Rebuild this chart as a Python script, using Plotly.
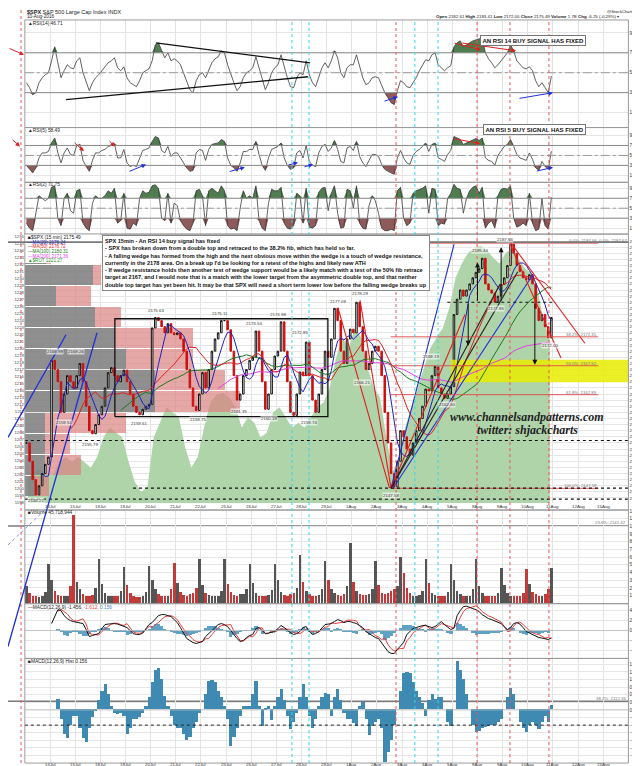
import numpy as np
import pandas as pd
import plotly.graph_objects as go

W, H = 640, 766
def X(p): return p / W
def Y(p): return 1 - p / H

# ---------------- data ----------------
SESSIONS = ["13Jul","14Jul","15Jul","18Jul","19Jul","20Jul","21Jul","22Jul","25Jul","26Jul","27Jul",
            "28Jul","29Jul","1Aug","2Aug","3Aug","4Aug","5Aug","8Aug","9Aug","10Aug"]
AXIS_LABELS = ["14Jul","15Jul","18Jul","19Jul","20Jul","21Jul","22Jul","25Jul","26Jul","27Jul","28Jul",
               "29Jul","1Aug","2Aug","3Aug","4Aug","5Aug","8Aug","9Aug","10Aug","11Aug","12Aug","15Aug"]
PER_DAY = 8

CLOSE = [
    2155, 2152, 2149, 2146.5, 2148, 2150, 2151.5, 2152.7,
    2168.5, 2167, 2165, 2160, 2163, 2166, 2165, 2164,
    2166, 2168, 2165, 2161, 2157, 2156.5, 2158, 2159.6,
    2161, 2164, 2166.5, 2167.3, 2166, 2165, 2166, 2166.9,
    2165, 2163, 2161, 2160, 2159.6, 2160.5, 2161, 2161.3,
    2173.8, 2175.5, 2175, 2174, 2173, 2174.5, 2173, 2172.7,
    2173, 2172, 2170, 2167, 2164, 2161, 2160.3, 2163,
    2166.5, 2164, 2167, 2170, 2172, 2173, 2175, 2175,
    2173.5, 2170, 2166, 2162, 2163, 2166, 2167, 2168.5,
    2169, 2173.3, 2170, 2165, 2160.5, 2163, 2167, 2169.2,
    2170, 2174.8, 2170, 2165, 2160, 2159.5, 2163, 2166.6,
    2166, 2171.5, 2166, 2162, 2160, 2163, 2167, 2170,
    2169, 2172, 2177, 2175, 2170, 2168, 2172, 2173.6,
    2173, 2178, 2174, 2170, 2167, 2168, 2170, 2170.8,
    2170, 2166, 2160, 2155, 2150, 2147.8, 2152, 2157,
    2156, 2154, 2153, 2155, 2157, 2159, 2161, 2163.8,
    2163.5, 2166, 2167.5, 2164, 2163, 2162.3, 2163, 2164.2,
    2176, 2178.5, 2180, 2179, 2180, 2181, 2182, 2182.9,
    2183.5, 2185.2, 2181, 2180, 2179.5, 2178, 2179, 2180.9,
    2182, 2184, 2187.5, 2186, 2184, 2183, 2182, 2181.7,
    2182.5, 2181, 2177, 2175, 2176, 2174, 2172.2, 2175.5,
]

RUT = [
    1201.6, 1202.3, 1202.8, 1201.9,
    1202.0, 1203.8, 1204.5, 1203.8,
    1204.5, 1203.8, 1203.0, 1204.5,
    1207.3, 1208.7, 1208.0, 1207.3,
    1203.8, 1200.9, 1199.5, 1200.2,
    1207.3, 1209.4, 1211.6, 1210.9,
    1210.2, 1205.9, 1203.0, 1204.5,
    1208.7, 1212.3, 1213.4, 1213.7,
    1213.0, 1211.6, 1208.7, 1210.2,
    1209.4, 1207.3, 1208.0, 1210.9,
    1211.6, 1210.2, 1208.7, 1209.4,
    1208.7, 1210.2, 1211.6, 1212.3,
    1214.4, 1218.7, 1221.6, 1220.1,
    1223.0, 1221.6, 1217.3, 1214.4,
    1213.0, 1207.3, 1202.3, 1204.5,
    1208.7, 1211.6, 1214.4, 1217.3,
    1220.1, 1221.6, 1223.0, 1225.8,
    1230.1, 1232.2, 1233.7, 1234.4,
    1234.7, 1234.1, 1233.0, 1232.2,
    1233.7, 1234.4, 1233.0, 1231.5,
    1230.8, 1228.7, 1224.0, 1221.3,
]

RSI14 = [
    40, 35, 28, 30, 40, 45, 48, 50,
    62, 76, 60, 45, 52, 58, 55, 54,
    62, 65, 50, 40, 32, 40, 45, 48,
    52, 55, 60, 62, 65, 55, 52, 56,
    45, 40, 38, 36, 42, 50, 52, 54,
    62, 78, 80, 72, 65, 70, 62, 64,
    62, 58, 50, 40, 33, 30, 42, 48,
    50, 45, 52, 60, 64, 66, 72, 70,
    58, 48, 40, 32, 36, 45, 50, 52,
    55, 66, 55, 42, 33, 40, 50, 55,
    58, 68, 55, 45, 36, 35, 45, 50,
    48, 62, 48, 40, 36, 45, 55, 60,
    55, 62, 72, 65, 50, 45, 55, 58,
    58, 68, 55, 45, 38, 40, 45, 46,
    45, 38, 30, 25, 20, 18, 32, 42,
    40, 36, 35, 40, 45, 52, 57, 63,
    62, 68, 70, 58, 55, 52, 55, 57,
    76, 80, 82, 76, 78, 80, 82, 83,
    84, 85, 70, 64, 60, 55, 58, 62,
    66, 70, 78, 72, 62, 58, 55, 54,
    56, 52, 42, 36, 40, 35, 30, 46.7,
]

RSI5 = [
    30, 22, 15, 25, 45, 55, 55, 58,
    75, 85, 55, 35, 55, 65, 52, 50,
    70, 72, 40, 28, 18, 40, 55, 55,
    60, 62, 68, 70, 74, 45, 45, 62,
    35, 28, 30, 28, 45, 60, 62, 65,
    78, 88, 85, 60, 55, 68, 48, 55,
    55, 45, 35, 25, 18, 20, 55, 62,
    60, 40, 62, 72, 74, 75, 82, 78,
    45, 30, 25, 18, 35, 58, 58, 62,
    62, 78, 52, 30, 20, 45, 62, 65,
    68, 75, 45, 30, 22, 25, 55, 60,
    45, 70, 38, 30, 28, 55, 68, 72,
    58, 65, 80, 62, 38, 35, 65, 68,
    60, 78, 48, 35, 28, 40, 52, 52,
    48, 32, 22, 18, 15, 12, 45, 60,
    45, 35, 32, 50, 58, 62, 68, 75,
    58, 72, 75, 45, 42, 38, 52, 60,
    88, 85, 82, 72, 75, 78, 82, 84,
    80, 85, 45, 40, 38, 30, 50, 60,
    68, 72, 82, 68, 52, 45, 42, 40,
    55, 42, 25, 20, 38, 28, 22, 58.5,
]

RSI2 = [
    20, 10, 5, 40, 75, 70, 65, 70,
    92, 95, 30, 15, 70, 80, 45, 40,
    85, 88, 20, 10, 5, 60, 75, 70,
    70, 75, 85, 80, 90, 20, 25, 80,
    10, 8, 20, 15, 70, 85, 80, 82,
    95, 97, 90, 30, 25, 80, 20, 60,
    55, 25, 15, 8, 5, 20, 85, 88,
    75, 15, 85, 90, 85, 80, 95, 85,
    15, 8, 10, 5, 50, 85, 70, 75,
    70, 95, 25, 10, 5, 60, 88, 85,
    85, 92, 20, 10, 8, 15, 80, 75,
    20, 90, 12, 10, 15, 82, 90, 92,
    45, 80, 95, 40, 10, 12, 88, 85,
    50, 95, 20, 10, 8, 55, 75, 65,
    40, 10, 5, 5, 8, 5, 85, 92,
    30, 15, 20, 80, 85, 88, 90, 95,
    40, 90, 88, 15, 20, 18, 70, 80,
    98, 90, 88, 40, 70, 85, 92, 95,
    80, 92, 10, 20, 25, 10, 75, 88,
    90, 88, 95, 30, 12, 15, 20, 15,
    80, 20, 5, 8, 70, 15, 8, 71.75,
]

VOLUME_M = [
    23, 14, 10, 9, 8, 9, 15, 51,
    30, 16, 11, 9, 9, 10, 22, 115,
    28, 18, 12, 10, 9, 11, 20, 58,
    25, 14, 10, 9, 9, 10, 16, 47,
    24, 13, 10, 8, 8, 10, 15, 49,
    30, 18, 12, 10, 9, 10, 18, 53,
    26, 15, 11, 10, 12, 14, 20, 58,
    24, 14, 11, 9, 9, 10, 16, 58,
    25, 15, 11, 10, 12, 12, 18, 51,
    26, 14, 10, 9, 10, 11, 17, 51,
    30, 15, 11, 10, 12, 13, 20, 63,
    28, 16, 12, 10, 10, 11, 18, 55,
    30, 18, 13, 11, 10, 12, 22, 78,
    28, 16, 12, 11, 11, 12, 18, 55,
    24, 14, 12, 13, 16, 18, 22, 60,
    40, 20, 13, 10, 10, 11, 16, 58,
    26, 14, 11, 9, 9, 10, 15, 51,
    30, 16, 12, 10, 9, 10, 18, 58,
    22, 13, 10, 9, 9, 10, 14, 46,
    24, 13, 10, 9, 9, 10, 13, 44,
    25, 15, 12, 10, 10, 12, 18, 45.7,
]

MACD = [
    None, None, None, None, None, None, None, None,
    1.4, 3.0, 4.2, 4.0, 3.0, 2.4, 2.0, 1.8,
    1.7, 1.6, 1.4, 0.2, -1.2, -1.0, -0.8, -0.6,
    0.4, 1.2, 1.3, 1.4, 1.4, 1.3, 1.1, 0.8,
    0.6, 0.0, -0.6, -0.8, -0.8, -0.5, 0.4, 1.2,
    1.6, 2.4, 3.0, 3.2, 3.2, 3.0, 2.8, 2.2,
    1.6, 0.6, -0.6, -1.6, -2.0, -2.4, -2.6, -2.4,
    -2.2, -1.2, -0.6, 0.2, 0.8, 1.2, 1.4, 1.2,
    0.8, 0.0, -1.0, -1.6, -2.2, -2.0, -1.4, -1.0,
    -0.8, 0.4, 0.6, 0.0, -0.6, -0.5, -0.3, -0.2,
    0.4, 1.0, 0.6, 0.0, -0.4, -0.8, -0.6, -0.2,
    0.6, 0.8, -0.2, -0.8, -0.6, -0.2, 0.6, 1.2,
    1.3, 1.4, 1.8, 2.2, 2.0, 1.6, 1.8, 1.8,
    1.6, 1.4, 1.0, 0.6, -0.2, -0.6, -1.0, -1.4,
    -1.6, -2.4, -3.2, -4.2, -4.6, -4.6, -3.8, -3.0,
    -2.4, -0.8, -0.2, 0.4, 0.6, 0.8, 1.0, 1.0,
    0.8, 0.6, 0.8, 1.4, 1.8, 1.2, 0.6, 0.2,
    0.5, 3.0, 4.0, 4.8, 4.9, 4.6, 4.4, 4.2,
    3.8, 3.2, 2.8, 2.4, 2.2, 1.9, 1.7, 1.4,
    0.8, 0.2, 0.6, 1.4, 1.6, 1.3, 0.6, -0.2,
    -0.5, -0.8, -1.2, -1.4, -1.5, -1.7, -1.8, -1.456,
]

MACD_HIST = [
    None, None, None, None, None, None, None, None,
    None, None, 0.33, -0.3, -0.8, -0.95, -0.5, -0.2,
    -0.2, -0.6, -0.95, -1.08, -0.6, -0.25, -0.05, 0.3,
    0.6, 0.84, 0.5, 0.1, -0.1, -0.15, -0.1, -0.2,
    -0.8, -0.6, -0.3, -0.3, -0.25, -0.1, 0.1, 0.4,
    0.9, 1.3, 1.38, 1.0, 0.45, 0.1, -0.2, -0.5,
    -0.6, -0.6, -0.8, -1.0, -0.9, -0.6, -0.4, -0.1,
    0.0, 0.5, 0.95, 0.98, 0.9, 0.6, 0.4, 0.1,
    -0.3, -1.2, -0.9, -0.6, -0.2, 0.1, 0.1, 0.1,
    0.5, 0.95, 0.1, -0.55, 0.05, 0.1, -0.35, 0.1,
    0.4, 0.68, 0.3, -0.2, -0.65, -0.4, -0.1, 0.4,
    0.84, 0.4, -0.2, -0.6, -0.3, 0.1, 0.4, 0.55,
    0.5, -0.2, 0.4, 0.68, 0.3, -0.1, -0.3, -0.3,
    -0.45, -0.53, 0.1, 0.25, -0.3, -0.85, -0.55, -0.4,
    -0.3, -0.6, -1.73, -1.4, -1.0, -0.5, 0.0, 0.6,
    1.2, 1.25, 1.2, 0.9, 0.6, 0.4, 0.2, -0.2,
    0.3, 0.5, 0.35, 0.4, 0.4, 0.0, -0.4, -0.55,
    0.0, 1.6, 1.3, 1.0, 0.5, 0.0, -0.5, -0.75,
    -0.7, -0.6, -0.58, -0.55, -0.52, -0.5, -0.4, -0.3,
    0.0, 0.4, 0.72, 0.5, 0.0, -0.4, -0.6, -0.75,
    -0.5, -0.4, -0.5, -0.63, -0.4, -0.2, -0.4, 0.156,
]

# volume-by-price, 12 zones from low to high (relative volume)
VBP_LOW, VBP_HIGH = 2146.21, 2187.66
VBP_UP = [17, 33, 33, 33, 215, 215, 167, 149, 116, 51, 113, 35]
VBP_DOWN = [22, 60, 41, 134, 141, 116, 111, 129, 43, 58, 13, 8]

FIB_LEVELS = [2187.66, 2172.35, 2167.62, 2162.89, 2147.58]
FIB_NAMES = ["0.0%: 2187.66  0.0%: 2187.67", "38.2%: 2172.35", "50.0%: 2167.62", "61.8%: 2162.89", "100.0%: 2147.58"]
YELLOW_ZONE_T = [16.95, 24.0]
YELLOW_ZONE_P = [2164.9, 2168.6]
RECT_T = [3.58, 12.05]
RECT_P = [2159.3, 2175.3]
DOTTED_P = [2178.0, 2155.4, 2147.6, 2145.8]
DOTTED_T = [[16.8, 21.1], [0.0, 24.0], [4.3, 24.0], [0.0, 24.0]]

# analyst trend lines (t, price) pairs
TREND_LINES = [
    ("#1f2fd8", [14.56, 17.07], [2147.6, 2187.5]),
    ("#1f2fd8", [14.64, 20.2], [2147.6, 2182.5]),
    ("#e02020", [19.33, 22.27], [2187.66, 2171.3]),
    ("#e02020", [19.29, 21.32], [2187.5, 2168.9]),
    ("#e02020", [13.33, 14.56], [2178.3, 2147.6]),
    ("#e02020", [12.45, 14.5], [2177.1, 2147.6]),
    ("#e02020", [14.56, 17.5], [2147.6, 2176.0]),
    ("#222222", [14.56, 18.9], [2147.6, 2181.0]),
    ("#222222", [14.56, 19.6], [2147.6, 2183.0]),
]

PRICE_LABELS = [
    ("2168.99", 1.2, 2170.0), ("2169.26", 2.05, 2170.0), ("2155.79", 2.6, 2154.7),
    ("2159.51", 1.55, 2158.3), ("2159.61", 4.55, 2158.2), ("2159.75", 6.9, 2158.9),
    ("2175.63", 5.21, 2176.7), ("2175.11", 7.76, 2176.2), ("2173.54", 9.11, 2174.6),
    ("2174.98", 10.07, 2176.0), ("2172.85", 10.94, 2173.0), ("2177.09", 12.45, 2178.1),
    ("2178.29", 13.33, 2179.4), ("2166.21", 13.4, 2164.9), ("2147.58", 14.56, 2146.4),
    ("2168.19", 16.15, 2169.2), ("2162.00", 16.8, 2161.3), ("2185.44", 18.1, 2186.5),
    ("2187.66", 19.1, 2188.3), ("2177.85", 18.75, 2176.9), ("2172.00", 20.9, 2171.0),
    ("2146.21", 0.45, 2145.6), ("2161.35", 8.5, 2160.2), ("2160.18", 9.7, 2159.0),
    ("2159.74", 11.3, 2158.4),
]

DASH_RED_T = [14.76, 17.98, 19.29, 20.84]
DASH_CYAN_T = [10.62, 11.3, 15.51, 16.43]

# ---------------- derived for drawing ----------------
n = len(CLOSE)
t8 = (np.arange(n) + 0.5) / PER_DAY
t4 = (np.arange(len(RUT)) + 0.5) / 4
close = np.array(CLOSE, float)
opens = np.concatenate([[close[0]], close[:-1]])
s = pd.Series(close)
ma20 = s.rolling(6).mean()
ma50 = s.rolling(15).mean()
ma100 = s.rolling(31).mean()
ma200 = s.rolling(62).mean()
macd = np.array([np.nan if v is None else v for v in MACD], float)
hist = np.array([np.nan if v is None else v for v in MACD_HIST], float)
signal = macd - hist
vol_col = ["#c23b3b" if c < o else "#555555" for c, o in zip(close, opens)]
zone = (VBP_HIGH - VBP_LOW) / 12
vbp_mid = [VBP_LOW + (i + 0.5) * zone for i in range(12)]

fig = go.Figure()
FONT = "Liberation Sans, Arial, sans-serif"
NARROW = "Liberation Sans Narrow, Liberation Sans, Arial, sans-serif"

def rsi_panel(vals, yax):
    a = np.array(vals, float)
    m = len(a)
    fig.add_trace(go.Scatter(x=t8, y=np.full(m, 70.0), mode="lines", line=dict(width=0), yaxis=yax, hoverinfo="skip"))
    fig.add_trace(go.Scatter(x=t8, y=np.maximum(a, 70), mode="lines", line=dict(width=0), fill="tonexty",
                             fillcolor="#4f7d4f", yaxis=yax, hoverinfo="skip"))
    fig.add_trace(go.Scatter(x=t8, y=np.full(m, 30.0), mode="lines", line=dict(width=0), yaxis=yax, hoverinfo="skip"))
    fig.add_trace(go.Scatter(x=t8, y=np.minimum(a, 30), mode="lines", line=dict(width=0), fill="tonexty",
                             fillcolor="#8f5a5a", yaxis=yax, hoverinfo="skip"))
    fig.add_trace(go.Scatter(x=t8, y=a, mode="lines", line=dict(color="#3a3a3a", width=0.8), yaxis=yax))

rsi_panel(RSI14, "y")
rsi_panel(RSI5, "y2")
rsi_panel(RSI2, "y3")

fig.add_trace(go.Scatter(x=t4, y=RUT, mode="lines", line=dict(width=0, color="#a8cfa3"), fill="tozeroy",
                         fillcolor="#afd4aa", xaxis="x", yaxis="y4"))
fig.add_trace(go.Bar(y=vbp_mid, x=VBP_UP, orientation="h", width=zone * 0.95, marker=dict(color="rgba(128,128,128,0.88)", line=dict(width=0)),
                     xaxis="x2", yaxis="y5"))
fig.add_trace(go.Bar(y=vbp_mid, x=VBP_DOWN, base=VBP_UP, orientation="h", width=zone * 0.95,
                     marker=dict(color="rgba(220,130,130,0.7)", line=dict(width=0)), xaxis="x2", yaxis="y5"))
fig.add_trace(go.Scatter(x=[YELLOW_ZONE_T[0], YELLOW_ZONE_T[1], YELLOW_ZONE_T[1], YELLOW_ZONE_T[0], YELLOW_ZONE_T[0]],
                         y=[YELLOW_ZONE_P[0], YELLOW_ZONE_P[0], YELLOW_ZONE_P[1], YELLOW_ZONE_P[1], YELLOW_ZONE_P[0]],
                         fill="toself", fillcolor="rgba(232,236,0,0.85)", line=dict(width=0), mode="lines",
                         xaxis="x3", yaxis="y5"))
for ma, col in [(ma200, "#e040e0"), (ma100, "#1a7a1a"), (ma50, "#e02020"), (ma20, "#2020c0")]:
    fig.add_trace(go.Scatter(x=t8, y=ma, mode="lines", line=dict(color=col, width=1), xaxis="x3", yaxis="y5"))
fig.add_trace(go.Candlestick(x=t8, open=opens, close=close, high=np.maximum(opens, close), low=np.minimum(opens, close),
                             increasing=dict(line=dict(color="#111111", width=1), fillcolor="#ffffff"),
                             decreasing=dict(line=dict(color="#cc1111", width=1), fillcolor="#cc1111"),
                             whiskerwidth=0, xaxis="x3", yaxis="y5"))
for col, tt, pp in TREND_LINES:
    fig.add_trace(go.Scatter(x=tt, y=pp, mode="lines", line=dict(color=col, width=1.1), xaxis="x3", yaxis="y5"))
fig.add_trace(go.Scatter(x=[RECT_T[0], RECT_T[1], RECT_T[1], RECT_T[0], RECT_T[0]],
                         y=[RECT_P[0], RECT_P[0], RECT_P[1], RECT_P[1], RECT_P[0]], mode="lines",
                         line=dict(color="#111", width=1.3), xaxis="x3", yaxis="y5"))
for lv in FIB_LEVELS:
    fig.add_trace(go.Scatter(x=[14.55, 22.8], y=[lv, lv], mode="lines", line=dict(color="#e04848", width=0.9),
                             xaxis="x3", yaxis="y5"))
for pv, tt in zip(DOTTED_P, DOTTED_T):
    fig.add_trace(go.Scatter(x=tt, y=[pv, pv], mode="lines", line=dict(color="#111", width=1.2, dash="dot"),
                             xaxis="x3", yaxis="y5"))

fig.add_trace(go.Bar(x=t8, y=VOLUME_M, width=0.1, marker=dict(color=vol_col, line=dict(width=0)), xaxis="x", yaxis="y7"))
fig.add_trace(go.Bar(x=t8, y=hist, width=1 / PER_DAY, marker=dict(color="#5ea3c6", line=dict(width=0)), xaxis="x", yaxis="y8"))
fig.add_trace(go.Scatter(x=t8, y=signal, mode="lines", line=dict(color="#e84040", width=1), xaxis="x", yaxis="y8"))
fig.add_trace(go.Scatter(x=t8, y=macd, mode="lines", line=dict(color="#111", width=1), xaxis="x", yaxis="y8"))
fig.add_trace(go.Bar(x=t8, y=hist, width=1 / PER_DAY, marker=dict(color="#3f8ab3", line=dict(width=0)), xaxis="x", yaxis="y9"))

# ---------------- layout ----------------
XL, XR = 16.85, 620.4
tickf = dict(size=4.6, color="#333", family=FONT)
def yax(top, bot, rng, **kw):
    d = dict(domain=[Y(bot), Y(top)], range=rng, side="right", anchor="x", showgrid=True, gridcolor="#e6e6e6",
             gridwidth=1, zeroline=False, ticks="", tickfont=tickf, showline=False, fixedrange=True)
    d.update(kw)
    return d

layout = dict(
    width=W, height=H, margin=dict(l=0, r=0, t=0, b=0), paper_bgcolor="white", plot_bgcolor="white",
    showlegend=False, barmode="overlay", bargap=0,
    xaxis=dict(domain=[X(XL), X(XR)], range=[0, 24], showgrid=True, gridcolor="#e3e3e3", tickvals=list(range(25)),
               showticklabels=False, ticks="", zeroline=False, anchor="y9"),
    xaxis2=dict(overlaying="x", range=[0, 1000], visible=False, anchor="y5"),
    xaxis3=dict(overlaying="x", range=[0, 24], visible=False, anchor="y5", rangeslider=dict(visible=False)),
    yaxis=yax(11, 119, [-5, 103], tickvals=[10, 30, 50, 70, 90]),
    yaxis2=yax(119, 174, [-4, 106], tickvals=[10, 30, 50, 70, 90]),
    yaxis3=yax(174, 226, [-2, 102], tickvals=[10, 30, 50, 70, 90]),
    yaxis4=yax(226, 496, [1197.9, 1236.4], side="left", showgrid=False, tickvals=list(range(1198, 1237)),
               tickfont=dict(size=4.2, color="#444", family=FONT)),
    yaxis5=dict(overlaying="y4", side="right", range=[2145.17, 2189.14], tickvals=list(range(2146, 2189)),
                showgrid=True, gridcolor="#e6e6e6", zeroline=False, ticks="", anchor="x3",
                tickfont=dict(size=4.4, color="#333", family=FONT)),
    yaxis7=yax(503, 597, [-0.4, 121.2], tickvals=list(range(10, 121, 10)),
               ticktext=[f"{v}M" for v in range(10, 121, 10)]),
    yaxis8=yax(597, 652, [-5.6, 5.4], tickvals=[-4, -2, 0, 2, 4]),
    yaxis9=yax(652, 757, [-1.748, 1.695], tickvals=[-1.75 + 0.25 * i for i in range(14)], tickformat=".2f"),
)
fig.update_layout(**layout)

shapes = []
for top, bot in [(11, 119), (119, 174), (174, 226), (226, 503), (503, 597), (597, 652), (652, 757)]:
    shapes.append(dict(type="rect", xref="paper", yref="paper", x0=X(XL), x1=X(XR), y0=Y(bot), y1=Y(top),
                       line=dict(color="#9a9a9a", width=1)))
shapes.append(dict(type="rect", xref="paper", yref="paper", x0=X(XL + 0.5), x1=X(93), y0=Y(255), y1=Y(226.5),
                   line=dict(width=0), fillcolor="white", layer="above"))
for ya in ["y", "y2", "y3"]:
    for lv, dash, col in [(70, "solid", "#8a8a8a"), (30, "solid", "#8a8a8a"), (50, "dashdot", "#9a9a9a")]:
        shapes.append(dict(type="line", xref="x", yref=ya, x0=0, x1=24, y0=lv, y1=lv, line=dict(color=col, width=1, dash=dash)))
shapes.append(dict(type="line", xref="x", yref="y9", x0=0, x1=24, y0=-0.5, y1=-0.5, line=dict(color="#222", width=1, dash="dot")))
shapes.append(dict(type="line", xref="x", yref="y9", x0=0, x1=24, y0=0, y1=0, line=dict(color="#bbb", width=0.8)))
shapes.append(dict(type="line", xref="x", yref="y8", x0=0, x1=24, y0=0, y1=0, line=dict(color="#bbb", width=0.8)))
for yy in [234, 519, 695]:
    shapes.append(dict(type="line", xref="paper", yref="paper", x0=0, x1=X(XR), y0=Y(yy), y1=Y(yy),
                       line=dict(color="#7a7a7a", width=1.6), layer="above" if yy == 234 else "below"))
for tv in DASH_RED_T:
    shapes.append(dict(type="line", xref="x", yref="paper", x0=tv, x1=tv, y0=Y(757), y1=Y(11),
                       line=dict(color="#ee5555", width=1, dash="dot")))
for tv in DASH_CYAN_T:
    shapes.append(dict(type="line", xref="x", yref="paper", x0=tv, x1=tv, y0=Y(757), y1=Y(11),
                       line=dict(color="#33d6e6", width=1, dash="dot")))
shapes.append(dict(type="line", xref="paper", yref="paper", x0=X(13), x1=X(13), y0=Y(757), y1=Y(0),
                   line=dict(color="#ee5555", width=1, dash="dot")))
shapes.append(dict(type="line", xref="paper", yref="paper", x0=0, y0=Y(640), x1=X(89), y1=Y(325), line=dict(color="#1f2fd8", width=1.3)))
shapes.append(dict(type="line", xref="paper", yref="paper", x0=0, y0=Y(430), x1=X(58), y1=Y(327), line=dict(color="#1f2fd8", width=1.3)))
shapes.append(dict(type="line", xref="paper", yref="paper", x0=0, y0=Y(538), x1=X(40), y1=Y(500), line=dict(color="#6a74e8", width=0.8, dash="dot")))
shapes.append(dict(type="line", xref="x", yref="y", x0=5.21, y0=80, x1=11.34, y1=60, line=dict(color="#111", width=1.3)))
shapes.append(dict(type="line", xref="x", yref="y", x0=1.64, y0=23, x1=11.26, y1=46, line=dict(color="#111", width=1.3)))
fig.update_layout(shapes=shapes)

ann = []
def txt(x, y, s, size=5, color="#222", anchor="left", family=FONT, **kw):
    d = dict(x=X(x), y=Y(y), xref="paper", yref="paper", text=s, showarrow=False, xanchor=anchor, yanchor="middle",
             font=dict(size=size, color=color, family=family), borderpad=0)
    d.update(kw)
    ann.append(d)

txt(18, 3.5, "<b>$SPX</b> S&P 500 Large Cap Index INDX", 5.5)
txt(18, 8.0, "10-Aug-2016", 4.7)
txt(637, 2.6, "@StockCharts.com", 4.2, anchor="right")
txt(612, 7.3, "<b>Open</b> 2182.61 <b>High</b> 2183.41 <b>Low</b> 2172.00 <b>Close</b> 2175.49 <b>Volume</b> 1.7B <b>Chg</b> -6.25 (-0.29%) \u25be", 4.4, anchor="right")
txt(19, 14.6, "\u25b2RSI(14) 46.71", 4.8)
txt(19, 122.3, "\u25b2RSI(5) 58.49", 4.8)
txt(19, 176.6, "\u25b2RSI(2) 71.75", 4.8)
txt(19, 229.3, "\u25a0$SPX (15 min) 2175.49", 4.8)
txt(19, 234.2, "\u2014MA(20) 2176.24", 4.6, color="#2020c0")
txt(19, 238.9, "\u2014MA(50) 2176.72", 4.6, color="#e02020")
txt(19, 243.5, "\u2014MA(100) 2180.31", 4.6, color="#1a7a1a")
txt(19, 248.1, "\u2014MA(200) 2171.36", 4.6, color="#e040e0")
txt(19, 252.7, "\u25b2$RUT 1221.27", 4.6, color="#2a8a2a")
txt(19, 505.8, "\u25a0Volume 45,718,944", 4.8)
txt(19, 600.4, "\u2014MACD(12,26,9) -1.456, <span style='color:#e84040'>-1.612</span>, <span style='color:#3f8ab3'>0.156</span>", 4.8)
txt(19, 654.6, "\u25a0MACD(12,26,9) Hist 0.156", 4.8)

for i, lab in enumerate(AXIS_LABELS):
    tv = i + 1
    for yy in (499.5, 758.8):
        ann.append(dict(x=tv, y=Y(yy), xref="x", yref="paper", text=lab, showarrow=False, xanchor="center",
                        yanchor="middle", borderpad=0, font=dict(size=4.4, color="#333", family=FONT)))

for lv, nm in zip(FIB_LEVELS, FIB_NAMES):
    ann.append(dict(x=22.8 if not nm.startswith("0.0") else 24.0, y=lv, xref="x3", yref="y5", text=nm, showarrow=False,
                    xanchor="right", yanchor="bottom", yshift=-1, borderpad=0, font=dict(size=4.3, color="#777", family=FONT)))
txt(619, 516, "23.6%: 2141.42", 4.3, color="#777", anchor="right")
txt(619, 692, "38.2%: 2112.36", 4.3, color="#777", anchor="right")

for s_, tv, pv in PRICE_LABELS:
    ann.append(dict(x=tv, y=pv, xref="x3", yref="y5", text=s_, showarrow=False, xanchor="center", yanchor="middle",
                    borderpad=0, font=dict(size=4.4, color="#333", family=FONT), bgcolor="rgba(255,255,255,0.6)"))

for tv, p0, p1 in [(17.63, 2178.0, 2170.9), (20.28, 2178.0, 2167.8), (18.0, 2178.0, 2184.5), (18.94, 2178.0, 2187.0)]:
    ann.append(dict(x=tv, y=p1, ax=tv, ay=p0, xref="x3", yref="y5", axref="x3", ayref="y5", text="", showarrow=True,
                    arrowhead=2, arrowsize=1, arrowwidth=1, arrowcolor="#111"))

def arr(t0, v0, t1, v1, ya, col):
    ann.append(dict(x=t1, y=v1, ax=t0, ay=v0, xref="x", yref=ya, axref="x", ayref=ya, text="", showarrow=True,
                    arrowhead=2, arrowsize=0.9, arrowwidth=1, arrowcolor=col))
arr(17.03, 80, 18.14, 73, "y", "#e02020")
arr(17.34, 80, 19.53, 72, "y", "#e02020")
arr(14.24, 21, 14.84, 26, "y", "#2030e0")
arr(19.61, 24, 21.0, 30, "y", "#2030e0")
arr(1.92, 77.6, 2.35, 58.6, "y2", "#e02020")
arr(3.31, 81.4, 3.58, 68, "y2", "#e02020")
arr(4.1, 16.7, 4.82, 31.9, "y2", "#2030e0")
arr(8.08, 16.7, 8.75, 26.2, "y2", "#2030e0")
arr(10.42, 30, 10.86, 35.7, "y2", "#2030e0")
arr(11.06, 26.2, 11.46, 31.9, "y2", "#2030e0")
arr(17.0, 84, 18.1, 74, "y2", "#e02020")
arr(20.3, 18, 21.0, 26, "y2", "#2030e0")
ann.append(dict(x=X(16), y=Y(46), ax=-16, ay=-7, xref="paper", yref="paper", axref="pixel", ayref="pixel",
                text="", showarrow=True, arrowhead=2, arrowsize=0.9, arrowwidth=1, arrowcolor="#e02020"))
ann.append(dict(x=X(12), y=Y(138), ax=-9, ay=-8, xref="paper", yref="paper", axref="pixel", ayref="pixel",
                text="", showarrow=True, arrowhead=2, arrowsize=0.9, arrowwidth=1, arrowcolor="#e02020"))

txt(525, 32, "<b>AN RSI 14 BUY SIGNAL HAS FIXED</b>", 6, color="#111", anchor="center", family=NARROW,
    bgcolor="white", bordercolor="#777", borderwidth=1, borderpad=1.5)
txt(526, 121, "<b>AN RSI 5 BUY SIGNAL HAS FIXED</b>", 6, color="#111", anchor="center", family=NARROW,
    bgcolor="white", bordercolor="#777", borderwidth=1, borderpad=1.5)

NOTE = ("SPX 15min - An RSI 14 buy signal has fixed<br>"
        "- SPX has broken down from a double top and retraced to the 38.2% fib, which has held so far.<br>"
        "- A falling wedge has formed from the high and the next obvious move within the wedge is a touch of wedge resistance,<br>"
        "currently in the 2178 area. On a break up I'd be looking for a retest of the highs and likely new ATH<br>"
        "- If wedge resistance holds then another test of wedge support would be a likely match with a test of the 50% fib retrace<br>"
        "target at 2167, and I would note that is a match with the lower target from the asymmetric double top, and that neither<br>"
        "double top target has yet been hit. It may be that SPX will need a short term lower low before the falling wedge breaks up")
ann.append(dict(x=X(94), y=Y(227), xref="paper", yref="paper", text="<b>" + NOTE + "</b>", showarrow=False,
                xanchor="left", yanchor="top", align="left", bgcolor="white", bordercolor="#888", borderwidth=1,
                borderpad=2, font=dict(size=5.6, color="#111", family=NARROW)))

txt(519, 410, "<b><i>www.channelsandpatterns.com</i></b>", 12, color="#222", anchor="center",
    family="Liberation Serif, DejaVu Serif, serif")
txt(519, 423, "<b><i>twitter: shjackcharts</i></b>", 12, color="#222", anchor="center",
    family="Liberation Serif, DejaVu Serif, serif")

fig.update_layout(annotations=ann)
fig.write_html("out.html")
